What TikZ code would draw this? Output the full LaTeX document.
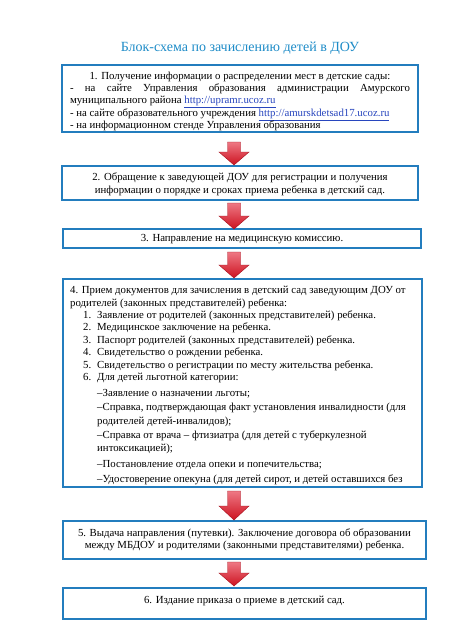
\documentclass[tikz,border=0pt]{standalone}
\usepackage{fontspec}
\setmainfont{Liberation Serif}
\definecolor{boxblue}{RGB}{35,125,190}
\definecolor{titleblue}{RGB}{30,140,200}
\definecolor{linkblue}{RGB}{40,70,190}
\definecolor{arrtop}{RGB}{238,120,132}
\definecolor{arrbot}{RGB}{205,18,32}
\definecolor{arredge}{RGB}{165,15,28}
\newcommand{\lnk}[1]{\textcolor{linkblue}{\underline{#1}}}
\newcommand{\itm}[1]{\hspace*{13pt}\makebox[14pt][l]{#1}}
\newcommand{\dsh}{\hspace*{27pt}}
\begin{document}
\begin{tikzpicture}[x=1pt,y=-1pt,
  boxnode/.style={draw=boxblue, line width=2.4pt, rectangle, inner sep=0pt},
  txt/.style={inner sep=0pt, font=\fontsize{10.8}{12.4}\selectfont},
  arrowfill/.style={top color=arrtop, bottom color=arrbot, draw=arredge, line width=0.4pt, line join=miter},
  pics/downarr/.style n args={2}{code={
    \path[arrowfill] (-6.5,0) -- (6.5,0) -- (6.5,#1) -- (15,#1) -- (0,#2) -- (-15,#1) -- (-6.5,#1) -- cycle;
  }}]
\useasboundingbox[fill=white] (0,0) rectangle (455,640);

\node[text=titleblue, font=\fontsize{14}{16}\selectfont] (title) at (240,48) {Блок-схема по зачислению детей в ДОУ};

% Box 1
\node[boxnode, minimum width=356, minimum height=67] (b1) at (240,98.5) {};
\node[txt, anchor=base, text width=340, align=justify] (t1) at (240,79)
{\makebox[\linewidth]{1. Получение информации о распределении мест в детские сады:}\par
- на сайте Управления образования администрации Амурского\linebreak
муниципального района \lnk{http://upramr.ucoz.ru}\par
- на сайте образовательного учреждения \lnk{http://amurskdetsad17.ucoz.ru}\par
- на информационном стенде Управления образования};

% Box 2
\node[boxnode, minimum width=356, minimum height=34] (b2) at (240,183) {};
\node[txt, anchor=base, align=center] (t2) at (240,193)
{2. Обращение к заведующей ДОУ для регистрации и получения\\
информации о порядке и сроках приема ребенка в детский сад.};

% Box 3
\node[boxnode, minimum width=358, minimum height=19] (b3) at (242,238.5) {};
\node[txt, anchor=base] (t3) at (242,241.5) {3. Направление на медицинскую комиссию.};

% Box 4 (text clipped at the bottom edge)
\coordinate (b4nw) at (63,279);
\coordinate (b4se) at (422,487);
\begin{scope}
\clip (b4nw) rectangle (b4se);
\node[txt, anchor=base west, align=left] (t4) at (70,482.5)
{4. Прием документов для зачисления в детский сад заведующим ДОУ от\\
родителей (законных представителей) ребенка:\\
\itm{1.}Заявление от родителей (законных представителей) ребенка.\\
\itm{2.}Медицинское заключение на ребенка.\\
\itm{3.}Паспорт родителей (законных представителей) ребенка.\\
\itm{4.}Свидетельство о рождении ребенка.\\
\itm{5.}Свидетельство о регистрации по месту жительства ребенка.\\
\itm{6.}Для детей льготной категории:\\[3.6pt]
\dsh –Заявление о назначении льготы;\\[1.6pt]
\dsh –Справка, подтверждающая факт установления инвалидности (для\\[1.6pt]
\dsh родителей детей-инвалидов);\\[1.6pt]
\dsh –Справка от врача – фтизиатра (для детей с туберкулезной\\[0.6pt]
\dsh интоксикацией);\\[3.6pt]
\dsh –Постановление отдела опеки и попечительства;\\[2.6pt]
\dsh –Удостоверение опекуна (для детей сирот, и детей оставшихся без};
\end{scope}
\node[boxnode, minimum width=359, minimum height=208] (b4) at (242.5,383) {};

% Box 5
\node[boxnode, minimum width=363, minimum height=38] (b5) at (244.5,540) {};
\node[txt, anchor=base, align=center] (t5) at (244.5,548.5)
{5. Выдача направления (путевки). Заключение договора об образовании\\
между МБДОУ и родителями (законными представителями) ребенка.};

% Box 6
\node[boxnode, minimum width=363, minimum height=31] (b6) at (244.5,603.5) {};
\node[txt, anchor=base] (t6) at (244.5,603.5) {6. Издание приказа о приеме в детский сад.};

% Arrows between the boxes
\pic at (234,142) {downarr={10}{23}};
\pic at (234,203) {downarr={13}{26}};
\pic at (234,252) {downarr={13}{26}};
\pic at (234,491) {downarr={15}{29}};
\pic at (234,562) {downarr={11}{24}};
\end{tikzpicture}
\end{document}
